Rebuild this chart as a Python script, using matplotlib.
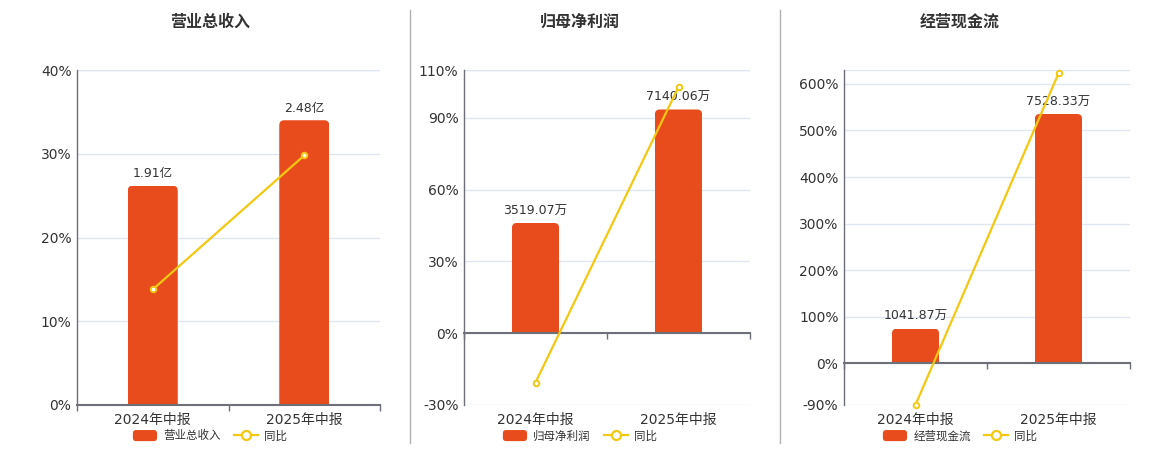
import matplotlib
matplotlib.use("Agg")
import matplotlib.pyplot as plt
from matplotlib.patches import FancyBboxPatch, Rectangle, Patch
from matplotlib.lines import Line2D
from matplotlib.legend_handler import HandlerPatch

plt.rcParams['font.family'] = ['DejaVu Sans', 'Noto Sans CJK SC']

# ---------------- data ----------------
categories = ['2024年中报', '2025年中报']

titles = ['营业总收入', '归母净利润', '经营现金流']

revenue = [1.91, 2.48]
revenue_labels = ['1.91亿', '2.48亿']
revenue_yoy = [13.8, 29.8]

profit = [3519.07, 7140.06]
profit_labels = ['3519.07万', '7140.06万']
profit_yoy = [-20.6, 102.9]

cashflow = [1041.87, 7528.33]
cashflow_labels = ['1041.87万', '7528.33万']
cashflow_yoy = [-89.5, 622.6]

yoy_name = '同比'

# ---------------- style ----------------
BAR = '#E84C1D'
LINE = '#F2C811'
GRID = '#E0E6F1'
AXIS = '#6E7079'
TXT = '#333333'

W, H = 1160, 450
fig = plt.figure(figsize=(W / 100, H / 100), dpi=100)


class RoundHandler(HandlerPatch):
    def create_artists(self, legend, orig_handle, xdescent, ydescent,
                       width, height, fontsize, trans):
        p = FancyBboxPatch((-xdescent, -ydescent), width, height,
                           boxstyle=f"round,pad=0,rounding_size={height * 0.3}",
                           facecolor=orig_handle.get_facecolor(),
                           edgecolor='none', transform=trans)
        return [p]


def panel(rect_px, title, vals, labels, yoy, ylim, yticks, center_x):
    l, r, t, b = rect_px
    rect = [l / W, 1 - b / H, (r - l) / W, (b - t) / H]
    wpx, hpx = r - l, b - t
    lo, hi = ylim

    # grid / ticks axes
    axg = fig.add_axes(rect)
    axg.set_xlim(-0.5, 1.5)
    axg.set_ylim(lo, hi)
    axg.set_yticks(yticks)
    axg.set_yticklabels([f'{v}%' for v in yticks], fontsize=10, color=TXT)
    axg.set_xticks(range(len(categories)))
    axg.set_xticklabels(categories, fontsize=10, color=TXT)
    axg.tick_params(axis='x', length=0, pad=6)
    axg.tick_params(axis='y', length=0, pad=4)
    axg.grid(axis='y', color=GRID, lw=1)
    axg.axhline(hi, color=GRID, lw=1)
    axg.set_axisbelow(True)
    for s in ['top', 'right', 'bottom']:
        axg.spines[s].set_visible(False)
    axg.spines['left'].set_color(AXIS)
    axg.spines['left'].set_linewidth(1)

    # bar axes (own scale, zero aligned with 0%)
    bmax = max(vals) / 0.85
    bmin = bmax * lo / hi
    axb = fig.add_axes(rect)
    axb.patch.set_alpha(0)
    axb.set_axis_off()
    axb.set_xlim(-0.5, 1.5)
    axb.set_ylim(bmin, bmax)
    bars = axb.bar(range(len(vals)), vals, width=0.33, color=BAR)
    rad = 5
    rx = rad * 2.0 / wpx
    ry = rad * (bmax - bmin) / hpx
    for rc, lab in zip(bars, labels):
        x, y0 = rc.get_x(), rc.get_y()
        w, h = rc.get_width(), rc.get_height()
        rc.set_visible(False)
        fb = FancyBboxPatch((x, y0 - ry), w, h + ry,
                            boxstyle=f"round,pad=0,rounding_size={rx}",
                            mutation_aspect=ry / rx,
                            facecolor=BAR, edgecolor='none',
                            transform=axb.transData)
        clip = Rectangle((x, y0), w, h, transform=axb.transData)
        axb.add_patch(fb)
        fb.set_clip_path(clip)
        axb.annotate(lab, (x + w / 2, y0 + h), xytext=(0, 4),
                     textcoords='offset points', ha='center', va='bottom',
                     fontsize=9, color=TXT)

    # line axes
    axl = fig.add_axes(rect)
    axl.patch.set_alpha(0)
    axl.set_xlim(-0.5, 1.5)
    axl.set_ylim(lo, hi)
    axl.plot(range(len(yoy)), yoy, color=LINE, lw=1.6, marker='o',
             markersize=4, markerfacecolor='white', markeredgecolor=LINE,
             markeredgewidth=1.4, zorder=4, clip_on=False)
    for s in ['top', 'right', 'left']:
        axl.spines[s].set_visible(False)
    axl.spines['bottom'].set_position(('data', 0))
    axl.spines['bottom'].set_color(AXIS)
    axl.spines['bottom'].set_linewidth(1.5)
    axl.set_yticks([])
    axl.set_xticks([-0.5, 0.5, 1.5])
    axl.set_xticklabels([])
    axl.tick_params(axis='x', direction='out', length=4, color=AXIS, width=1)

    fig.text(center_x / W, 1 - 22 / H, title, ha='center', va='center',
             fontsize=11.5, fontweight='bold', color=TXT)

    handles = [Patch(facecolor=BAR, edgecolor='none'),
               Line2D([], [], color=LINE, lw=1.6, marker='o', markersize=6.5,
                      markerfacecolor='white', markeredgecolor=LINE,
                      markeredgewidth=1.6)]
    fig.legend(handles, [title, yoy_name], loc='center', ncol=2,
               bbox_to_anchor=(center_x / W, 1 - 436 / H),
               bbox_transform=fig.transFigure, frameon=False,
               fontsize=8.3, labelcolor=TXT, handlelength=2.1,
               handleheight=1.1, handletextpad=0.55, columnspacing=1.1,
               handler_map={Patch: RoundHandler()})


panel((77, 380, 70, 405), titles[0], revenue, revenue_labels, revenue_yoy,
      (0, 40), [0, 10, 20, 30, 40], 210)
panel((464, 750, 70, 405), titles[1], profit, profit_labels, profit_yoy,
      (-30, 110), [-30, 0, 30, 60, 90, 110], 580)
panel((844, 1130, 70, 405), titles[2], cashflow, cashflow_labels, cashflow_yoy,
      (-90, 630), [-90, 0, 100, 200, 300, 400, 500, 600], 960)

for xs in (410, 780):
    fig.add_artist(Line2D([xs / W, xs / W], [1 - 10 / H, 1 - 443 / H],
                          color='#B0B0B0', lw=1, transform=fig.transFigure))

fig.savefig('out.png', dpi=100)
